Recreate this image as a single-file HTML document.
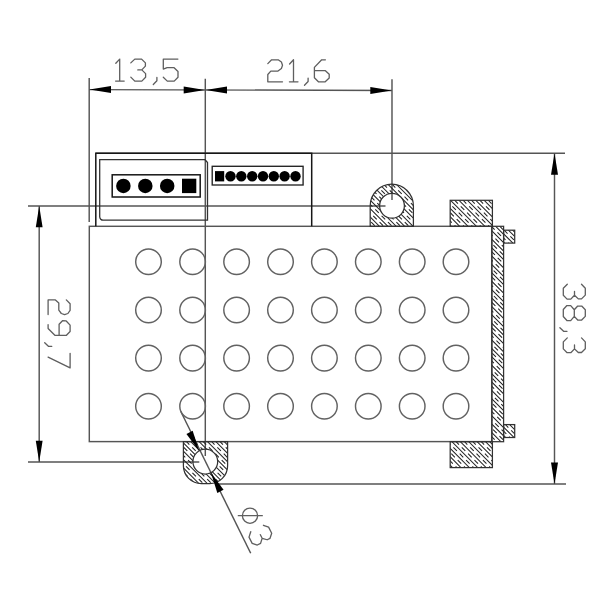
<!DOCTYPE html>
<html><head><meta charset="utf-8">
<style>
html,body{margin:0;padding:0;background:#fff;}
body{width:600px;height:600px;overflow:hidden;font-family:"Liberation Sans",sans-serif;}
svg{display:block;}
</style></head><body>
<svg width="600" height="600" viewBox="0 0 600 600">
<defs>
<path id="d1" d="M0.2,4.2 L4.1,0 L4.1,22 M0,22 L8.6,22"/>
<path id="d2" d="M0,3.8 L3.8,0 L10.4,0 L13.6,2.2 L14.7,5.5 L13.6,8.8 L10.2,11.3 L3,11.3 L0,14.7 L0,22 L14.7,22"/>
<path id="d3" d="M0,3.8 L4,0 L10.8,0 L14.6,3.8 L14.6,7 L11,10.8 L7,10.8 M11,10.8 L14.8,14.5 L14.8,18.2 L11,22 L4,22 L0,18"/>
<path id="d5" d="M14.6,0 L0,0 L0,10 L3.8,8.6 L10.8,8.6 L14.7,12.4 L14.7,18.2 L10.9,22 L4,22 L0,18.2"/>
<path id="d6" d="M11,0 L7.3,0 L0,7.6 L0,18 L4,22 L10.8,22 L14.8,18.2 L14.8,14.4 L11,10.9 L0,10.9"/>
<path id="d7" d="M0,0 L14.6,0 L3.8,22"/>
<path id="d8" d="M4.2,0 L10.8,0 L14.5,3.6 L14.5,7.6 L10.8,11 L4.2,11 L0.5,7.6 L0.5,3.6 Z M4.2,11 L0,14.6 L0,18.4 L4,22 L11,22 L15,18.4 L15,14.6 L10.8,11"/>
<path id="d9" d="M4,22 L7.7,22 L14.7,15 L14.7,3.9 L10.8,0 L4.4,0 L0.2,3.9 L0,7.6 L3.5,11 L14.7,11"/>
<path id="dc" d="M3.6,-3.7 L3.6,-0.3 L0,3.4"/>
</defs>
<filter id="bl" x="0" y="0" width="600" height="600" filterUnits="userSpaceOnUse"><feGaussianBlur stdDeviation="0.5"/></filter>
<rect width="600" height="600" fill="#fff"/>
<g filter="url(#bl)">

<!-- thin grey lines -->
<g fill="none" stroke="#555" stroke-width="1.45">
<!-- extension lines -->
<line x1="89.2" y1="78" x2="89.2" y2="222"/>
<line x1="205.3" y1="78.7" x2="205.3" y2="456"/>
<line x1="392" y1="79.3" x2="392" y2="200"/>
<!-- horizontal dim lines -->
<line x1="89" y1="89.6" x2="392" y2="90.5"/>
<!-- top line -->
<line x1="95.8" y1="153.3" x2="565" y2="153.3"/>
<!-- y=206 line -->
<line x1="28" y1="205.9" x2="385.5" y2="205.9"/>
<!-- y=462 line -->
<line x1="28" y1="462" x2="199.3" y2="462"/>
<!-- bottom line -->
<line x1="216" y1="484" x2="566" y2="484"/>
<!-- vertical dim lines -->
<line x1="39.2" y1="206" x2="39.2" y2="462"/>
<line x1="554.5" y1="153.3" x2="554.5" y2="484"/>
<!-- diagonal -->
<line x1="180.7" y1="411.3" x2="250.7" y2="553.3"/>
<!-- body -->
<rect x="89.3" y="226.3" width="402.4" height="215.3"/>
</g>

<!-- grid circles -->
<g fill="none" stroke="#626262" stroke-width="1.45">
<circle cx="148.5" cy="261.8" r="12.8"/><circle cx="192.6" cy="261.8" r="12.8"/><circle cx="236.6" cy="261.8" r="12.8"/><circle cx="280.5" cy="261.8" r="12.8"/><circle cx="324.4" cy="261.8" r="12.8"/><circle cx="368.3" cy="261.8" r="12.8"/><circle cx="412.2" cy="261.8" r="12.8"/><circle cx="456" cy="261.8" r="12.8"/><circle cx="148.5" cy="310" r="12.8"/><circle cx="192.6" cy="310" r="12.8"/><circle cx="236.6" cy="310" r="12.8"/><circle cx="280.5" cy="310" r="12.8"/><circle cx="324.4" cy="310" r="12.8"/><circle cx="368.3" cy="310" r="12.8"/><circle cx="412.2" cy="310" r="12.8"/><circle cx="456" cy="310" r="12.8"/><circle cx="148.5" cy="358.1" r="12.8"/><circle cx="192.6" cy="358.1" r="12.8"/><circle cx="236.6" cy="358.1" r="12.8"/><circle cx="280.5" cy="358.1" r="12.8"/><circle cx="324.4" cy="358.1" r="12.8"/><circle cx="368.3" cy="358.1" r="12.8"/><circle cx="412.2" cy="358.1" r="12.8"/><circle cx="456" cy="358.1" r="12.8"/><circle cx="148.5" cy="406.2" r="12.8"/><circle cx="192.6" cy="406.2" r="12.8"/><circle cx="236.6" cy="406.2" r="12.8"/><circle cx="280.5" cy="406.2" r="12.8"/><circle cx="324.4" cy="406.2" r="12.8"/><circle cx="368.3" cy="406.2" r="12.8"/><circle cx="412.2" cy="406.2" r="12.8"/><circle cx="456" cy="406.2" r="12.8"/>
</g>

<!-- hatched parts -->
<defs>
<clipPath id="c1"><rect x="450.2" y="200.3" width="42.2" height="26"/></clipPath>
<clipPath id="c2"><rect x="450.2" y="441.7" width="42.2" height="25.9"/></clipPath>
<clipPath id="c3"><rect x="491.9" y="226.3" width="11.7" height="215.4"/></clipPath>
<clipPath id="c4"><rect x="503.6" y="230.2" width="11.1" height="12.9"/></clipPath>
<clipPath id="c5"><rect x="503.6" y="424.6" width="11.1" height="12.9"/></clipPath>
<clipPath id="c6"><path fill-rule="evenodd" clip-rule="evenodd" d="M370.2,226.3 L370.2,205.8 A21.6,21.6 0 0 1 413.4,205.8 L413.4,226.3 Z M404.4,205.8 A12.4,12.4 0 1 0 379.6,205.8 A12.4,12.4 0 1 0 404.4,205.8 Z"/></clipPath>
<clipPath id="c7"><path fill-rule="evenodd" clip-rule="evenodd" d="M183.4,441.6 L183.4,465.7 A18,18 0 0 0 201.4,483.7 L209.6,483.7 A18,18 0 0 0 227.6,465.7 L227.6,441.6 Z M217.7,461.6 A12.4,12.4 0 1 0 192.9,461.6 A12.4,12.4 0 1 0 217.7,461.6 Z"/></clipPath>
</defs>
<g clip-path="url(#c1)" fill="none" stroke="#222" stroke-width="1.05"><path d="M425.0,200.0 L452.0,227.0 M433.4,200.0 L460.4,227.0 M441.8,200.0 L468.8,227.0 M450.2,200.0 L477.2,227.0 M458.6,200.0 L485.6,227.0 M467.0,200.0 L494.0,227.0 M475.4,200.0 L502.4,227.0 M483.8,200.0 L510.8,227.0 M492.2,200.0 L519.2,227.0"/><path stroke-dasharray="5 4" d="M420.8,200.0 L447.8,227.0 M429.2,200.0 L456.2,227.0 M437.6,200.0 L464.6,227.0 M446.0,200.0 L473.0,227.0 M454.4,200.0 L481.4,227.0 M462.8,200.0 L489.8,227.0 M471.2,200.0 L498.2,227.0 M479.6,200.0 L506.6,227.0 M488.0,200.0 L515.0,227.0"/></g>
<g clip-path="url(#c2)" fill="none" stroke="#222" stroke-width="1.05"><path d="M426.0,441.0 L453.0,468.0 M434.4,441.0 L461.4,468.0 M442.8,441.0 L469.8,468.0 M451.2,441.0 L478.2,468.0 M459.6,441.0 L486.6,468.0 M468.0,441.0 L495.0,468.0 M476.4,441.0 L503.4,468.0 M484.8,441.0 L511.8,468.0"/><path stroke-dasharray="5 4" d="M421.8,441.0 L448.8,468.0 M430.2,441.0 L457.2,468.0 M438.6,441.0 L465.6,468.0 M447.0,441.0 L474.0,468.0 M455.4,441.0 L482.4,468.0 M463.8,441.0 L490.8,468.0 M472.2,441.0 L499.2,468.0 M480.6,441.0 L507.6,468.0 M489.0,441.0 L516.0,468.0"/></g>
<g clip-path="url(#c3)" fill="none" stroke="#222" stroke-width="1.05"><path d="M276.9,226.0 L492.9,442.0 M285.3,226.0 L501.3,442.0 M293.7,226.0 L509.7,442.0 M302.1,226.0 L518.1,442.0 M310.5,226.0 L526.5,442.0 M318.9,226.0 L534.9,442.0 M327.3,226.0 L543.3,442.0 M335.7,226.0 L551.7,442.0 M344.1,226.0 L560.1,442.0 M352.5,226.0 L568.5,442.0 M360.9,226.0 L576.9,442.0 M369.3,226.0 L585.3,442.0 M377.7,226.0 L593.7,442.0 M386.1,226.0 L602.1,442.0 M394.5,226.0 L610.5,442.0 M402.9,226.0 L618.9,442.0 M411.3,226.0 L627.3,442.0 M419.7,226.0 L635.7,442.0 M428.1,226.0 L644.1,442.0 M436.5,226.0 L652.5,442.0 M444.9,226.0 L660.9,442.0 M453.3,226.0 L669.3,442.0 M461.7,226.0 L677.7,442.0 M470.1,226.0 L686.1,442.0 M478.5,226.0 L694.5,442.0 M486.9,226.0 L702.9,442.0 M495.3,226.0 L711.3,442.0 M503.7,226.0 L719.7,442.0"/><path stroke-dasharray="5 4" d="M272.7,226.0 L488.7,442.0 M281.1,226.0 L497.1,442.0 M289.5,226.0 L505.5,442.0 M297.9,226.0 L513.9,442.0 M306.3,226.0 L522.3,442.0 M314.7,226.0 L530.7,442.0 M323.1,226.0 L539.1,442.0 M331.5,226.0 L547.5,442.0 M339.9,226.0 L555.9,442.0 M348.3,226.0 L564.3,442.0 M356.7,226.0 L572.7,442.0 M365.1,226.0 L581.1,442.0 M373.5,226.0 L589.5,442.0 M381.9,226.0 L597.9,442.0 M390.3,226.0 L606.3,442.0 M398.7,226.0 L614.7,442.0 M407.1,226.0 L623.1,442.0 M415.5,226.0 L631.5,442.0 M423.9,226.0 L639.9,442.0 M432.3,226.0 L648.3,442.0 M440.7,226.0 L656.7,442.0 M449.1,226.0 L665.1,442.0 M457.5,226.0 L673.5,442.0 M465.9,226.0 L681.9,442.0 M474.3,226.0 L690.3,442.0 M482.7,226.0 L698.7,442.0 M491.1,226.0 L707.1,442.0 M499.5,226.0 L715.5,442.0"/></g>
<g clip-path="url(#c4)" fill="none" stroke="#222" stroke-width="1.05"><path d="M491.4,230.0 L505.4,244.0 M499.8,230.0 L513.8,244.0 M508.2,230.0 L522.2,244.0"/><path stroke-dasharray="5 4" d="M487.2,230.0 L501.2,244.0 M495.6,230.0 L509.6,244.0 M504.0,230.0 L518.0,244.0 M512.4,230.0 L526.4,244.0"/></g>
<g clip-path="url(#c5)" fill="none" stroke="#222" stroke-width="1.05"><path d="M492.2,424.0 L506.2,438.0 M500.6,424.0 L514.6,438.0 M509.0,424.0 L523.0,438.0"/><path stroke-dasharray="5 4" d="M488.0,424.0 L502.0,438.0 M496.4,424.0 L510.4,438.0 M504.8,424.0 L518.8,438.0 M513.2,424.0 L527.2,438.0"/></g>
<g clip-path="url(#c6)" fill="none" stroke="#222" stroke-width="1.05"><path d="M328.8,184.0 L371.8,227.0 M337.2,184.0 L380.2,227.0 M345.6,184.0 L388.6,227.0 M354.0,184.0 L397.0,227.0 M362.4,184.0 L405.4,227.0 M370.8,184.0 L413.8,227.0 M379.2,184.0 L422.2,227.0 M387.6,184.0 L430.6,227.0 M396.0,184.0 L439.0,227.0 M404.4,184.0 L447.4,227.0 M412.8,184.0 L455.8,227.0"/><path stroke-dasharray="5 4" d="M324.6,184.0 L367.6,227.0 M333.0,184.0 L376.0,227.0 M341.4,184.0 L384.4,227.0 M349.8,184.0 L392.8,227.0 M358.2,184.0 L401.2,227.0 M366.6,184.0 L409.6,227.0 M375.0,184.0 L418.0,227.0 M383.4,184.0 L426.4,227.0 M391.8,184.0 L434.8,227.0 M400.2,184.0 L443.2,227.0 M408.6,184.0 L451.6,227.0"/></g>
<g clip-path="url(#c7)" fill="none" stroke="#222" stroke-width="1.05"><path d="M139.6,441.0 L182.6,484.0 M148.0,441.0 L191.0,484.0 M156.4,441.0 L199.4,484.0 M164.8,441.0 L207.8,484.0 M173.2,441.0 L216.2,484.0 M181.6,441.0 L224.6,484.0 M190.0,441.0 L233.0,484.0 M198.4,441.0 L241.4,484.0 M206.8,441.0 L249.8,484.0 M215.2,441.0 L258.2,484.0 M223.6,441.0 L266.6,484.0"/><path stroke-dasharray="5 4" d="M143.8,441.0 L186.8,484.0 M152.2,441.0 L195.2,484.0 M160.6,441.0 L203.6,484.0 M169.0,441.0 L212.0,484.0 M177.4,441.0 L220.4,484.0 M185.8,441.0 L228.8,484.0 M194.2,441.0 L237.2,484.0 M202.6,441.0 L245.6,484.0 M211.0,441.0 L254.0,484.0 M219.4,441.0 L262.4,484.0 M227.8,441.0 L270.8,484.0"/></g>
<g fill="none" stroke="#333" stroke-width="1.25">
<rect x="450.2" y="200.3" width="42.2" height="26"/>
<rect x="450.2" y="441.7" width="42.2" height="25.9"/>
<rect x="491.9" y="226.3" width="11.7" height="215.4"/>
<rect x="503.6" y="230.2" width="11.1" height="12.9"/>
<rect x="503.6" y="424.6" width="11.1" height="12.9"/>
<path fill-rule="evenodd" d="M370.2,226.3 L370.2,205.8 A21.6,21.6 0 0 1 413.4,205.8 L413.4,226.3 Z M404.4,205.8 A12.4,12.4 0 1 0 379.6,205.8 A12.4,12.4 0 1 0 404.4,205.8 Z"/>
<path fill-rule="evenodd" d="M183.4,441.6 L183.4,465.7 A18,18 0 0 0 201.4,483.7 L209.6,483.7 A18,18 0 0 0 227.6,465.7 L227.6,441.6 Z M217.7,461.6 A12.4,12.4 0 1 0 192.9,461.6 A12.4,12.4 0 1 0 217.7,461.6 Z"/>
</g>

<!-- connector (black) -->
<g fill="none" stroke="#161616" stroke-width="1.5">
<path d="M95.8,226.3 L95.8,153.3 L311.7,153.3 L311.7,226.3"/>
<path d="M99.7,159.7 L205,159.7 L207.5,162.5 L207.5,220.2 L103.2,220.2 A3.5,3.5 0 0 1 99.7,216.7 Z" stroke-width="1.3" stroke="#333"/>
<rect x="112.2" y="174.8" width="88" height="22.2"/>
<rect x="212.2" y="166.3" width="90.9" height="18.7" stroke-width="1.35" stroke="#222"/>
</g>
<g fill="#000">
<circle cx="123.4" cy="185.9" r="7.25"/><circle cx="145.3" cy="185.9" r="7.25"/><circle cx="167.2" cy="185.9" r="7.25"/>
<rect x="182" y="178.7" width="14.3" height="14.4"/>
<rect x="215" y="171.1" width="9.2" height="10.3"/>
<circle cx="230.5" cy="176.2" r="5.2"/><circle cx="241.3" cy="176.2" r="5.2"/><circle cx="252.2" cy="176.2" r="5.2"/><circle cx="263.0" cy="176.2" r="5.2"/><circle cx="273.8" cy="176.2" r="5.2"/><circle cx="284.6" cy="176.2" r="5.2"/><circle cx="295.5" cy="176.2" r="5.2"/>
</g>

<!-- arrows -->
<g fill="#000">
<polygon points="89.5,89.6 111,86.1 111,93.1"/>
<polygon points="205,90 183.7,86.5 183.7,93.5"/>
<polygon points="205.6,90 227,86.5 227,93.5"/>
<polygon points="391.7,90.5 370.3,87 370.3,94"/>
<polygon points="39.2,206 35.8,227.3 42.6,227.3"/>
<polygon points="39.2,462 35.8,440.7 42.6,440.7"/>
<polygon points="554.5,153.3 551,174.7 558,174.7"/>
<polygon points="554.5,484 551,462.6 558,462.6"/>
<g transform="translate(199.1,451.1) rotate(63)"><polygon points="0,0 -21,-3.5 -21,3.5"/></g>
<g transform="translate(210.9,472.6) rotate(63)"><polygon points="0,0 21,-3.5 21,3.5"/></g>
</g>

<!-- text -->
<g fill="none" stroke="#5e5e5e" stroke-width="1.3" stroke-linecap="round" stroke-linejoin="round">
<use href="#d1" x="115.6" y="59.1"/><use href="#d3" x="130.8" y="59.1"/><use href="#dc" x="153.3" y="81.1"/><use href="#d5" x="163.3" y="59.1"/>
<use href="#d2" x="267.8" y="59.8"/><use href="#d1" x="289.4" y="59.8"/><use href="#dc" x="304.5" y="81.8"/><use href="#d6" x="314.4" y="59.8"/>
<g transform="translate(70.1,299.9) rotate(90)"><use href="#d2" x="0" y="0"/><use href="#d9" x="20.85" y="0"/><use href="#dc" x="42.8" y="22"/><use href="#d7" x="53.4" y="0"/></g>
<g transform="translate(585.3,284.3) rotate(90)"><use href="#d3" x="0" y="0"/><use href="#d8" x="21.25" y="0"/><use href="#dc" x="43.4" y="22"/><use href="#d3" x="53.6" y="0"/></g>
<g transform="translate(224.7,500) rotate(63)"><g transform="translate(40.1,-26.8)"><use href="#d3"/></g></g>
<circle cx="250" cy="515.7" r="7.6"/>
<line x1="238.3" y1="515.7" x2="262.3" y2="515.7"/>
</g>
</g>
</svg>
</body></html>
